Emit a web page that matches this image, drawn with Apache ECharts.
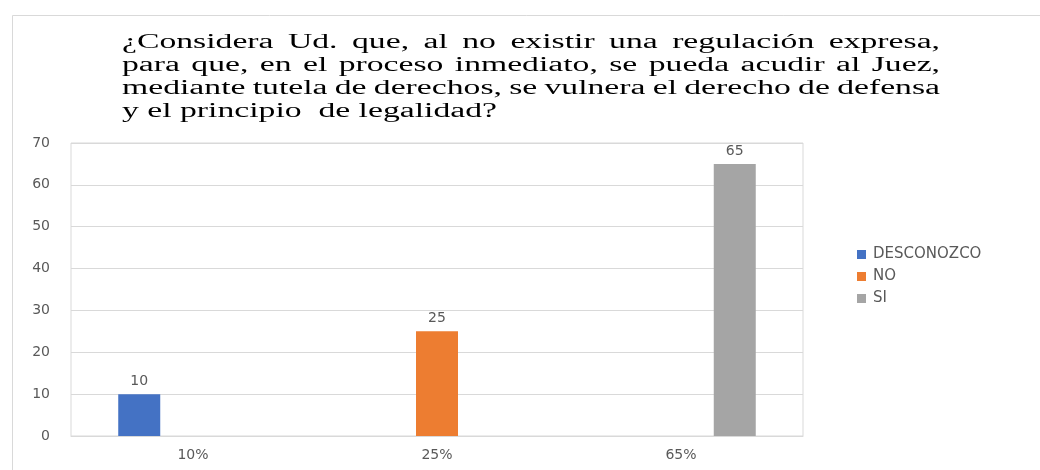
<!DOCTYPE html>
<html>
<head>
<meta charset="utf-8">
<script src="https://cdn.jsdelivr.net/npm/echarts@6/dist/echarts.min.js"></script>
<style>
  html, body { margin: 0; padding: 0; background: #fff; }
  #chart { width: 1040px; height: 470px; }
</style>
</head>
<body>
<div id="chart"></div>
<script>
  // datos del gráfico
  var categories = ['10%', '25%', '65%'];
  var seriesNames = ['DESCONOZCO', 'NO', 'SI'];
  var desconozcoData = [10, null, null];
  var noData = [null, 25, null];
  var siData = [null, null, 65];
  var yTicks = [0, 10, 20, 30, 40, 50, 60, 70];

  var titleLines = [
    '¿Considera Ud. que, al no existir una regulación expresa,',
    'para que, en el proceso inmediato, se pueda acudir al Juez,',
    'mediante tutela de derechos, se vulnera el derecho de defensa',
    'y el principio  de legalidad?'
  ];

  var colors = ['#4472c4', '#ed7d31', '#a5a5a5'];
  var labelFont = 'DejaVu Sans';

  // titulo justificado (como en Word), palabra por palabra
  var titleFont = '20px "Liberation Serif"';
  var ctx = document.createElement('canvas').getContext('2d');
  ctx.font = titleFont;
  var titleLeft = 122, titleWidth = 818;
  var lastWidth = ctx.measureText(titleLines[titleLines.length - 1]).width;
  var stretch = 375 / lastWidth;
  var titleGraphics = [];
  titleLines.forEach(function (line, i) {
    var words = line.split(' ');
    var widths = words.map(function (w) { return ctx.measureText(w).width * stretch; });
    var total = widths.reduce(function (a, b) { return a + b; }, 0);
    var gap = ctx.measureText(' ').width * stretch;
    if (i < titleLines.length - 1) gap = (titleWidth - total) / (words.length - 1);
    var x = titleLeft;
    words.forEach(function (w, j) {
      if (w) {
        titleGraphics.push({
          type: 'text',
          x: x,
          y: 43 + i * 23,
          scaleX: stretch,
          style: { text: w, font: titleFont, fill: '#000', verticalAlign: 'middle' }
        });
      }
      x += widths[j] + gap;
    });
  });

  var barSeries = [desconozcoData, noData, siData].map(function (d, i) {
    return {
      name: seriesNames[i],
      type: 'bar',
      data: d,
      barWidth: 42,
      barGap: '28%',
      itemStyle: { color: colors[i] },
      label: {
        show: true,
        position: 'top',
        distance: 6,
        color: '#595959',
        fontFamily: labelFont,
        fontSize: 14
      }
    };
  });

  var myChart = echarts.init(document.getElementById('chart'));
  var option = {
    animation: false,
    backgroundColor: '#fff',
    graphic: [{
      type: 'rect',
      shape: { x: 12.5, y: 15.5, width: 1100, height: 500 },
      style: { fill: 'none', stroke: '#d9d9d9', lineWidth: 1 }
    }].concat(titleGraphics),
    legend: {
      orient: 'vertical',
      left: 852,
      top: 242,
      itemWidth: 9,
      itemHeight: 9,
      itemGap: 7,
      icon: 'rect',
      data: seriesNames,
      textStyle: { color: '#595959', fontFamily: labelFont, fontSize: 15, padding: [0, 0, 0, 2] }
    },
    grid: {
      left: 71,
      right: 237,
      top: 143,
      bottom: 34,
      show: true,
      borderColor: '#d9d9d9',
      borderWidth: 1
    },
    xAxis: {
      type: 'category',
      data: categories,
      axisTick: { show: false },
      axisLine: { lineStyle: { color: '#d9d9d9' } },
      axisLabel: { color: '#595959', fontFamily: labelFont, fontSize: 14, margin: 12 }
    },
    yAxis: {
      type: 'value',
      min: yTicks[0],
      max: yTicks[yTicks.length - 1],
      interval: yTicks[1] - yTicks[0],
      axisLine: { show: false },
      axisTick: { show: false },
      splitLine: { lineStyle: { color: '#d9d9d9' } },
      axisLabel: { color: '#595959', fontFamily: labelFont, fontSize: 14, margin: 21 }
    },
    series: barSeries
  };
  myChart.setOption(option);
</script>
</body>
</html>
